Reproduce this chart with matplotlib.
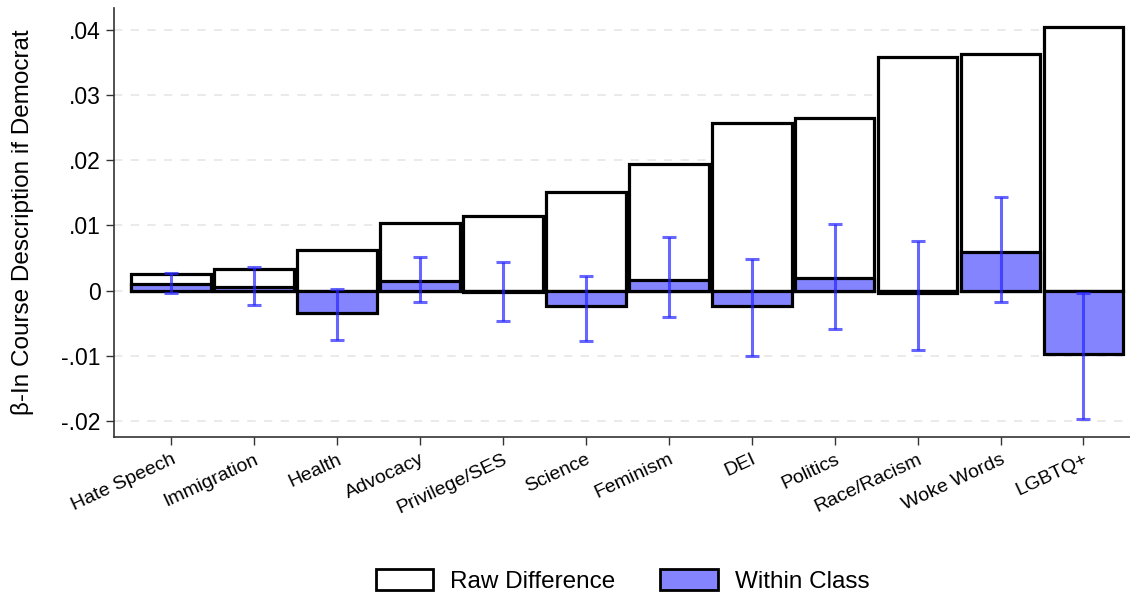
import matplotlib
matplotlib.use("Agg")
import matplotlib.pyplot as plt
from matplotlib.patches import Patch
import numpy as np

categories = ["Hate Speech", "Immigration", "Health", "Advocacy", "Privilege/SES",
              "Science", "Feminism", "DEI", "Politics", "Race/Racism", "Woke Words", "LGBTQ+"]
raw_diff = [0.0026, 0.0034, 0.0062, 0.0103, 0.0114, 0.0151, 0.0194, 0.0257,
            0.0265, 0.0358, 0.0362, 0.0404]
within = [0.0010, 0.0006, -0.0034, 0.0015, -0.0002, -0.0023, 0.0017, -0.0023,
          0.0019, -0.0004, 0.0059, -0.0097]
ci_low = [-0.0003, -0.0022, -0.0075, -0.0017, -0.0047, -0.0077, -0.0040, -0.0100,
          -0.0059, -0.0091, -0.0017, -0.0196]
ci_high = [0.0027, 0.0037, 0.0002, 0.0052, 0.0044, 0.0022, 0.0082, 0.0048,
           0.0102, 0.0076, 0.0143, -0.0004]
yticks = [-0.02, -0.01, 0, 0.01, 0.02, 0.03, 0.04]
ytick_labels = ["-.02", "-.01", "0", ".01", ".02", ".03", ".04"]

plt.rcParams['font.family'] = ['Liberation Sans', 'DejaVu Sans']

fig = plt.figure(figsize=(11.3, 5.96), dpi=100)
ax = fig.add_axes([0.1009, 0.2668, 0.899, 0.7198])

x = np.arange(1, len(categories) + 1)
width = 0.96
blue_fill = "#8484FF"

ax.bar(x, raw_diff, width=width, color="white", edgecolor="black", linewidth=2.3, zorder=2)
ax.bar(x, within, width=width, color=blue_fill, edgecolor="black", linewidth=2.3, zorder=3)
within_a = np.array(within)
yerr = np.vstack([within_a - np.array(ci_low), np.array(ci_high) - within_a])
ax.errorbar(x, within, yerr=yerr, fmt="none", ecolor=(0.15, 0.15, 1.0, 0.7),
            elinewidth=2.2, capsize=5, capthick=2.2, zorder=4)

ax.set_xlim(0.31, 12.56)
ax.set_ylim(-0.0224, 0.0433)
ax.set_yticks(yticks)
ax.set_yticklabels(ytick_labels, fontsize=16.5)
ax.set_xticks(x)
ax.set_xticklabels(categories, fontsize=14, rotation=25, ha="right", rotation_mode="anchor")
ax.tick_params(axis="both", length=6, width=1, color="#333333")
ax.tick_params(axis="x", pad=4)
ax.yaxis.grid(True, linestyle=(0, (5, 5)), color="#e6e6e6", linewidth=1.2, zorder=0)
ax.set_axisbelow(True)
for s in ["top", "right"]:
    ax.spines[s].set_visible(False)
for s in ["left", "bottom"]:
    ax.spines[s].set_linewidth(1.2)
    ax.spines[s].set_color("#333333")
ax.set_ylabel("β-In Course Description if Democrat", fontsize=17.5)
ax.yaxis.set_label_coords(-0.079, 0.5)

handles = [Patch(facecolor="white", edgecolor="black", linewidth=2),
           Patch(facecolor=blue_fill, edgecolor="black", linewidth=2)]
fig.legend(handles, ["Raw Difference", "Within Class"], loc="center",
           bbox_to_anchor=(0.551, 0.025), ncol=2, frameon=False, fontsize=17.5,
           handlelength=2.35, handleheight=0.9, handletextpad=0.72, columnspacing=1.85)

fig.savefig("out.png", dpi=100)
